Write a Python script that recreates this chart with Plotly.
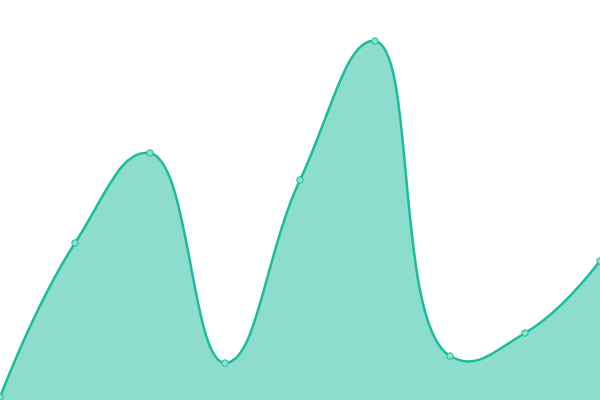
import plotly.graph_objects as go

x_vals = [0, 1, 2, 3, 4, 5, 6, 7, 8]
y_vals = [3, 157, 247, 37, 220, 359, 44, 67, 139]

fig = go.Figure()
fig.add_trace(go.Scatter(
    x=x_vals, y=y_vals,
    mode="lines+markers",
    line=dict(shape="spline", smoothing=1.3, color="#1abc9c", width=2.5),
    fill="tozeroy",
    fillcolor="rgba(26,188,156,0.5)",
    marker=dict(size=6.5, color="#8ce0cf", line=dict(color="#1abc9c", width=1)),
    hoverinfo="skip",
))
fig.update_layout(
    width=600, height=400,
    margin=dict(l=0, r=0, t=0, b=0),
    paper_bgcolor="white", plot_bgcolor="white",
    showlegend=False,
    xaxis=dict(visible=False, range=[0, 8]),
    yaxis=dict(visible=False, range=[0, 400]),
)
fig.write_html("out.html", config={"displayModeBar": False},
               post_script="document.body.style.margin='0';")
